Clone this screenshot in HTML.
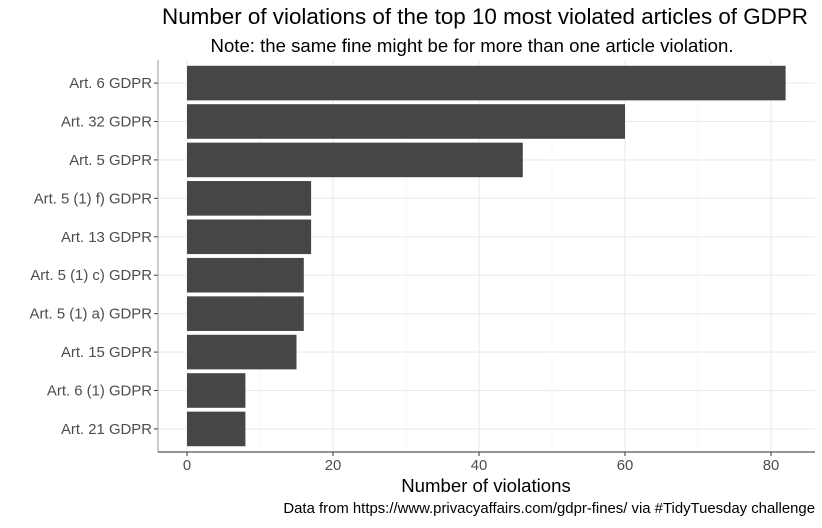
<!DOCTYPE html>
<html><head><meta charset="utf-8"><style>
body{margin:0;background:#fff;font-family:"Liberation Sans",sans-serif;}
svg text{font-family:"Liberation Sans",sans-serif;}
</style></head><body>
<svg id="c" width="822" height="523">
<text x="485" y="24" font-size="22.4" text-anchor="middle" fill="#000">Number of violations of the top 10 most violated articles of GDPR</text>
<text x="472" y="52" font-size="18.6" text-anchor="middle" fill="#000">Note: the same fine might be for more than one article violation.</text>
<text x="486" y="492" font-size="18.6" text-anchor="middle" fill="#000">Number of violations</text>
<text x="815" y="513" font-size="14.9" text-anchor="end" fill="#000">Data from https://www.privacyaffairs.com/gdpr-fines/ via #TidyTuesday challenge</text>
<g id="plot"></g>
</svg>
<script>
const categories=["Art. 6 GDPR","Art. 32 GDPR","Art. 5 GDPR","Art. 5 (1) f) GDPR","Art. 13 GDPR","Art. 5 (1) c) GDPR","Art. 5 (1) a) GDPR","Art. 15 GDPR","Art. 6 (1) GDPR","Art. 21 GDPR"];
const values=[82,60,46,17,17,16,16,15,8,8];
const xTicks=[0,20,40,60,80];
const xMinor=[10,30,50,70];
const L=158,R=815,T=60,B=452;
const x0=187,scale=7.3;
const X=v=>x0+v*scale;
const step=(B-T)/(categories.length-1+1.2);
const Y=i=>T+step*(0.6+i);
const g=document.getElementById('plot');
const NS='http://www.w3.org/2000/svg';
function el(t,a){const e=document.createElementNS(NS,t);for(const k in a)e.setAttribute(k,a[k]);g.appendChild(e);return e;}
xMinor.forEach(v=>{const e=el('line',{x1:X(v),x2:X(v),y1:T,y2:B,stroke:'#f2f2f2','stroke-width':0.6});

});
xTicks.forEach(v=>{const e=el('line',{x1:X(v),x2:X(v),y1:T,y2:B,stroke:'#ebebeb','stroke-width':1.1});

});
categories.forEach((c,i)=>{const e=el('line',{x1:L,x2:R,y1:Y(i),y2:Y(i),stroke:'#ebebeb','stroke-width':1.1});

});
const bh=step*0.9;
categories.forEach((c,i)=>{
const b=el('rect',{x:X(0),y:Y(i)-bh/2,width:X(values[i])-X(0),height:bh,fill:'#464646'});


const t=el('line',{x1:L-4,x2:L,y1:Y(i),y2:Y(i),stroke:'#333','stroke-width':1});


const l=el('text',{x:L-6,y:Y(i)+5,'font-size':14.9,'text-anchor':'end',fill:'#4d4d4d'});l.textContent=c;


});
xTicks.forEach(v=>{
const t=el('line',{x1:X(v),x2:X(v),y1:B,y2:B+4,stroke:'#333','stroke-width':1});


const l=el('text',{x:X(v),y:B+18,'font-size':14.9,'text-anchor':'middle',fill:'#4d4d4d'});l.textContent=v;


});
const ya=el('line',{x1:L,x2:L,y1:T,y2:B,stroke:'#aaa','stroke-width':1.2});


const xa=el('line',{x1:L,x2:R,y1:B,y2:B,stroke:'#555','stroke-width':1.2});


</script>
</body></html>
